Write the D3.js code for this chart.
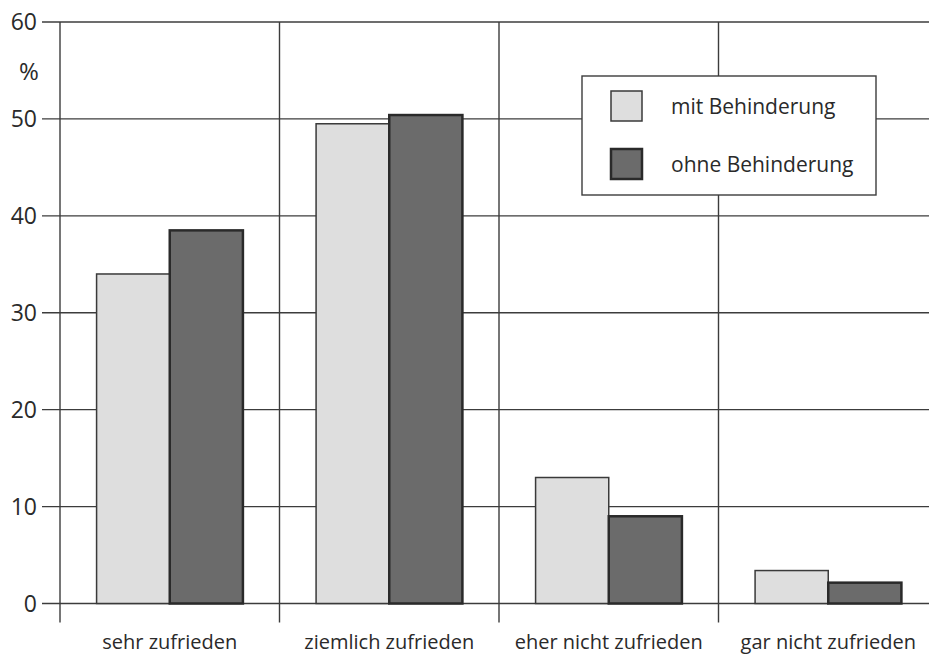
<!DOCTYPE html>
<html>
<head>
<meta charset="utf-8">
<script src="https://cdn.jsdelivr.net/npm/d3@7"></script>
<style>
  html, body { margin: 0; padding: 0; background: #fff; }
  svg { display: block; }
  text { font-family: "Open Sans", "Noto Sans", sans-serif; fill: #2a2a2a; }
</style>
</head>
<body>
<svg id="chart" width="929" height="654"></svg>
<script>
// Zufriedenheit, Anteile in Prozent
const categories = ["sehr zufrieden", "ziemlich zufrieden", "eher nicht zufrieden", "gar nicht zufrieden"];
const seriesNames = ["mit Behinderung", "ohne Behinderung"];
const mitBehinderung = [34, 49.5, 13, 3.4];
const ohneBehinderung = [38.5, 50.4, 9, 2.15];
const yTicks = [0, 10, 20, 30, 40, 50, 60];

const fills = ["#dedede", "#6b6b6b"];
const strokes = ["#3a3a3a", "#2a2a2a"];

const svg = d3.select("#chart");
const width = 929;

const y = d3.scaleLinear().domain([0, 60]).range([603.5, 22]);
const x = d3.scaleBand().domain(categories).range([60, 938]).paddingInner(0).paddingOuter(0);
const xSub = d3.scaleBand().domain(seriesNames).range([0, x.bandwidth()]).paddingInner(0).paddingOuter(0.5);

const rows = categories.map((c, i) => ({ cat: c, values: [mitBehinderung[i], ohneBehinderung[i]] }));

// horizontal grid lines with ticks reaching past the axis
const grid = svg.append("g").attr("stroke", "#3c3c3c").attr("stroke-width", 1.4);
grid.selectAll("line.h").data(yTicks).join("line")
  .attr("class", "h")
  .attr("x1", 42).attr("x2", width)
  .attr("y1", d => y(d)).attr("y2", d => y(d));

// vertical separators between categories
grid.selectAll("line.v").data(categories).join("line")
  .attr("class", "v")
  .attr("x1", d => x(d)).attr("x2", d => x(d))
  .attr("y1", y(60)).attr("y2", y(0) + 19);

// y tick labels
svg.append("g").selectAll("text").data(yTicks).join("text")
  .attr("x", 37).attr("y", d => y(d))
  .attr("dy", "0.36em")
  .attr("text-anchor", "end")
  .attr("font-size", 23)
  .text(d => d);

svg.append("text")
  .attr("x", 29).attr("y", y(55) + 1).attr("dy", "0.36em")
  .attr("text-anchor", "middle")
  .attr("font-size", 24)
  .text("%");

// bars
const groups = svg.append("g").selectAll("g").data(rows).join("g")
  .attr("transform", d => `translate(${x(d.cat)},0)`);

groups.selectAll("rect").data(d => d.values.map((v, k) => ({ v, k }))).join("rect")
  .attr("x", d => xSub(seriesNames[d.k]))
  .attr("width", xSub.bandwidth())
  .attr("y", d => y(d.v))
  .attr("height", d => y(0) - y(d.v))
  .attr("fill", d => fills[d.k])
  .attr("stroke", d => strokes[d.k])
  .attr("stroke-width", d => d.k === 0 ? 1.5 : 2.5);

// category labels
svg.append("g").selectAll("text").data(categories).join("text")
  .attr("x", d => x(d) + x.bandwidth() / 2)
  .attr("y", 649)
  .attr("text-anchor", "middle")
  .attr("font-size", 20)
  .text(d => d);

// legend
const legend = svg.append("g");
legend.append("rect")
  .attr("x", 582).attr("y", 76).attr("width", 294).attr("height", 119)
  .attr("fill", "#fff").attr("stroke", "#3c3c3c").attr("stroke-width", 1.4);

const items = legend.selectAll("g").data(seriesNames).join("g")
  .attr("transform", (d, i) => `translate(0,${i * 58})`);
items.append("rect")
  .attr("x", 611).attr("y", 91).attr("width", 31).attr("height", 30)
  .attr("fill", (d, i) => fills[i])
  .attr("stroke", (d, i) => strokes[i])
  .attr("stroke-width", (d, i) => i === 0 ? 1.5 : 2.5);
items.append("text")
  .attr("x", 671).attr("y", 106).attr("dy", "0.36em")
  .attr("font-size", 21)
  .text(d => d);
</script>
</body>
</html>
